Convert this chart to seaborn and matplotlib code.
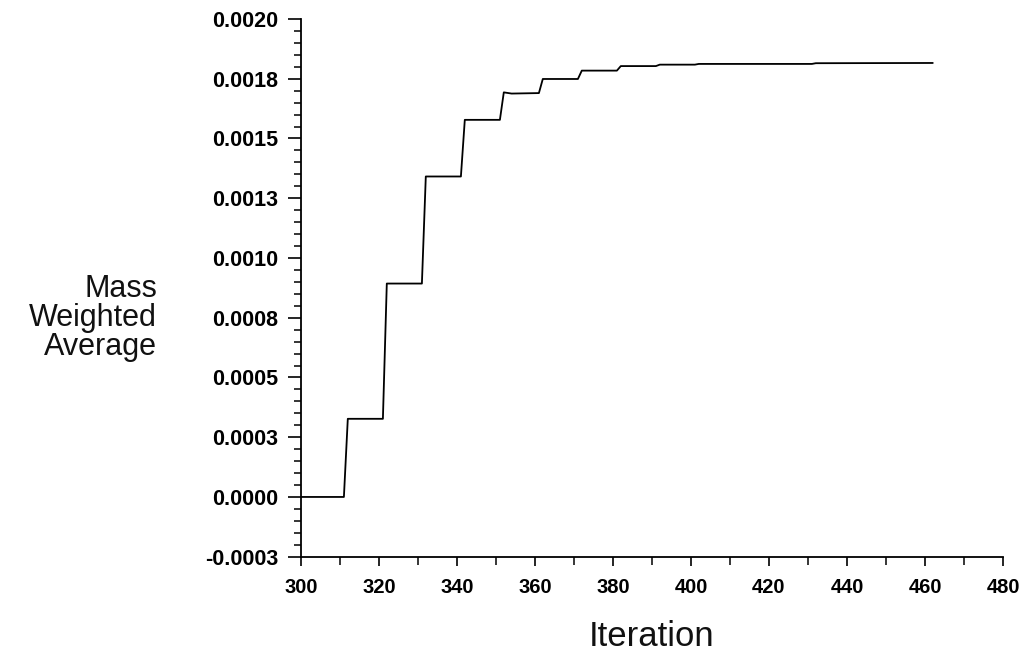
import matplotlib
matplotlib.use("Agg")
import matplotlib.pyplot as plt
import seaborn as sns
import pandas as pd
from matplotlib.ticker import MultipleLocator, FixedLocator

# ---- data ----
iterations = [300, 311, 312, 321, 322, 331, 332, 341, 342, 351, 352, 354, 361,
              362, 371, 372, 381, 382, 391, 392, 401, 402, 431, 432, 462]
mass_weighted_avg = [0.0, 0.0, 0.000327, 0.000327, 0.000893, 0.000893, 0.001341,
                     0.001341, 0.001578, 0.001578, 0.001693, 0.001688, 0.001690,
                     0.001749, 0.001749, 0.001784, 0.001784, 0.001803, 0.001803,
                     0.001809, 0.001809, 0.001812, 0.001812, 0.001815, 0.001816]

xtick_values = [300, 320, 340, 360, 380, 400, 420, 440, 460, 480]
ytick_values = [-0.00025, 0.0, 0.00025, 0.0005, 0.00075, 0.001, 0.00125,
                0.0015, 0.00175, 0.002]
ytick_labels = ['-0.0003', '0.0000', '0.0003', '0.0005', '0.0008', '0.0010',
                '0.0013', '0.0015', '0.0018', '0.0020']

df = pd.DataFrame({"Iteration": iterations, "value": mass_weighted_avg})

sns.set_style("ticks")
plt.rcParams['font.family'] = ['Liberation Sans', 'DejaVu Sans']

fig = plt.figure(figsize=(10.28, 6.52), dpi=100)
ax = fig.add_axes([301/1028, 1 - 556.7/652, (1003-301)/1028, (556.7-19)/652])

sns.lineplot(data=df, x="Iteration", y="value", ax=ax, color="black",
             linewidth=1.3, estimator=None, sort=False)

ax.set_xlim(300, 480)
ax.set_ylim(-0.00025, 0.002)
ax.xaxis.set_major_locator(FixedLocator(xtick_values))
ax.xaxis.set_minor_locator(MultipleLocator(10))
ax.set_yticks(ytick_values)
ax.set_yticklabels(ytick_labels)
ax.yaxis.set_minor_locator(MultipleLocator(0.00005))

sns.despine(ax=ax)
for s in ("left", "bottom"):
    ax.spines[s].set_linewidth(1.3)
    ax.spines[s].set_color("black")

ax.tick_params(axis="y", which="major", length=9.5, width=1.2, labelsize=15.5,
               pad=7, colors="black")
ax.tick_params(axis="y", which="minor", length=5, width=1.1, colors="black")
ax.tick_params(axis="x", which="major", length=6.5, width=1.2, labelsize=14.5,
               pad=9, colors="black")
ax.tick_params(axis="x", which="minor", length=5.5, width=1.1, colors="black")
for lbl in ax.get_xticklabels() + ax.get_yticklabels():
    lbl.set_fontweight("bold")

ax.set_xlabel("Iteration", fontsize=25, color="#111111")
ax.xaxis.set_label_coords(0.5, -0.148)
ax.xaxis.label.set_va("center")

ax.set_ylabel("Mass\nWeighted\nAverage", fontsize=22, rotation=0,
              ha="right", va="center", multialignment="right",
              linespacing=0.95, color="#111111")
ax.yaxis.set_label_coords((157-301)/702, (556.7-318)/537.7)

fig.savefig("out.png", dpi=100, facecolor="white")
